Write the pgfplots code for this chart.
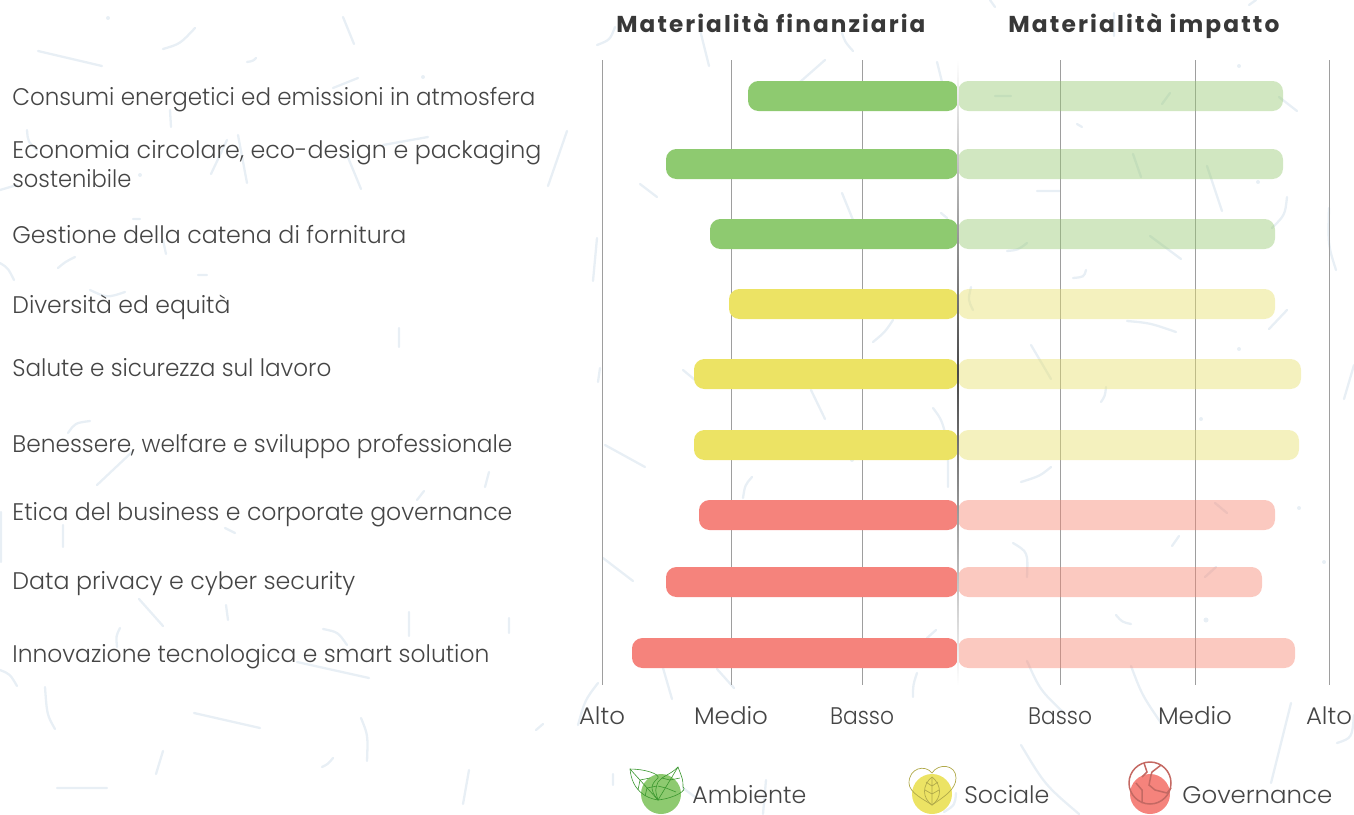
\documentclass[border=0pt]{standalone}
\usepackage{fontspec}
\usepackage{graphicx}
\usepackage{pgfplots}
\pgfplotsset{compat=1.18}
\setmainfont{Poppins}[UprightFont=* Light,BoldFont=* Bold]
\definecolor{txt}{HTML}{454545}
\definecolor{speck}{HTML}{E8EFF5}
\definecolor{grn}{HTML}{8ECA70}
\definecolor{yel}{HTML}{ECE364}
\definecolor{rdd}{HTML}{F5837C}
\definecolor{grnb}{HTML}{99CA75}
\definecolor{yelb}{HTML}{E7E06F}
\definecolor{rddb}{HTML}{F68773}
% label: left x, baseline y, right x (all reference pixels), text
\newcommand{\lab}[4]{\pgfmathsetmacro{\labw}{(#3-#1)*0.5}\node[anchor=base west,inner sep=0pt,text=txt,font=\fontsize{12}{14}\selectfont] at (#1,#2) {\resizebox{\labw pt}{\height}{#4}};}
\newcommand{\ttl}[4]{\pgfmathsetmacro{\labw}{(#3-#1)*0.5}\node[anchor=base west,inner sep=0pt,text=black!78,font=\fontsize{11.5}{14}\selectfont\bfseries] at (#1,#2) {\resizebox{\labw pt}{\height}{\addfontfeature{LetterSpace=9}#4}};}
\newcommand{\tk}[2]{\resizebox{#1pt}{\height}{#2}}
\tikzset{px/.style={x=0.5pt,y=-0.5pt}}
\begin{document}
\begin{tikzpicture}
\path[use as bounding box] (0,0) rectangle (677pt,-407pt);
% background specks
\begin{scope}[px,draw=speck,line width=1.15pt,line cap=round]
\draw (38,51)--(102,66) (343,17)--(354,44) (170,110)--(171,127) (238,135)--(247,183)
 (227,140)--(211,174) (347,155)--(361,189) (163,240)--(166,254) (399,328)--(399,347)
 (63,525)--(63,547) (1,512)--(1,562) (139,599)--(163,626) (226,605)--(228,620)
 (409,612)--(409,636) (297,662)--(369,678) (194,713)--(260,728) (163,751)--(156,774)
 (57,788)--(107,788) (700,30)--(709,66) (825,60)--(800,82) (567,131)--(548,186)
 (640,184)--(657,197) (842,193)--(853,220) (597,238)--(593,281) (600,368)--(598,382)
 (683,370)--(695,380) (811,390)--(825,419) (605,445)--(645,467) (489,472)--(485,487)
 (603,558)--(633,581) (509,618)--(509,633) (663,668)--(672,699) (717,669)--(734,688)
 (469,770)--(463,804) (613,774)--(613,785) (683,788)--(695,797) (766,780)--(763,814)
 (1114,13)--(1114,36) (937,62)--(942,82) (995,96)--(1011,96) (1170,93)--(1162,104)
 (1279,97)--(1297,111) (1077,124)--(1082,127) (1133,154)--(1141,177) (1207,166)--(1222,211)
 (1037,191)--(1060,191) (1150,236)--(1181,259) (941,213)--(947,218) (1287,310)--(1269,329)
 (1031,345)--(1051,379) (1354,365)--(1344,399) (948,460)--(948,487) (1215,503)--(1227,513)
 (1179,536)--(1172,546) (1216,567)--(1205,577) (936,630)--(927,638) (1291,703)--(1271,783)
 (990,0)--(995,7) (1256,0)--(1249,5) (198,275)--(207,275) (133,219)--(140,219)
 (97,485)--(132,452) (424,491)--(417,500) (225,528)--(235,533) (543,724)--(536,730)
 (333,88)--(358,78) (383,145)--(428,137) (0,190)--(17,185);
\draw (163,49) .. controls (180,44) .. (195,28);
\draw (247,62) .. controls (253,61) .. (256,58);
\draw (27,130) .. controls (28,142) .. (37,150);
\draw (75,257) .. controls (65,262) .. (58,268);
\draw (0,263) .. controls (8,268) .. (14,280);
\draw (90,290) .. controls (107,298) .. (125,292);
\draw (90,421) .. controls (75,423) .. (68,433);
\draw (120,628) .. controls (116,636) .. (117,647);
\draw (323,629) .. controls (338,632) .. (347,645);
\draw (0,670) .. controls (10,674) .. (17,686);
\draw (45,687) .. controls (47,715) .. (55,729);
\draw (361,718) .. controls (368,735) .. (367,761);
\draw (333,758) .. controls (328,764) .. (322,767);
\draw (615,27) .. controls (610,40) .. (597,45);
\draw (842,33) .. controls (845,42) .. (853,51);
\draw (893,320) .. controls (885,332) .. (873,342);
\draw (752,477) .. controls (745,485) .. (743,498);
\draw (598,683) .. controls (585,700) .. (578,725);
\draw (1287,197) .. controls (1285,215) .. (1272,228);
\draw (1027,243) .. controls (1018,250) .. (1007,251);
\draw (1329,208) .. controls (1328,245) .. (1336,270);
\draw (1086,270) .. controls (1084,277) .. (1073,278);
\draw (971,287) .. controls (968,300) .. (973,310);
\draw (1127,321) .. controls (1150,323) .. (1176,332);
\draw (1106,387) .. controls (1105,396) .. (1101,402);
\draw (933,408) .. controls (942,420) .. (948,445);
\draw (1051,467) .. controls (1040,476) .. (1021,482);
\draw (1013,543) .. controls (1028,552) .. (1027,577);
\draw (1116,615) .. controls (1122,622) .. (1131,624);
\draw (917,673) .. controls (913,685) .. (913,697);
\draw (1027,661) .. controls (1040,690) .. (1064,713);
\draw (1131,666) .. controls (1142,695) .. (1161,723);
\draw (1354,715) .. controls (1352,738) .. (1337,743);
\draw (1021,745) .. controls (1045,785) .. (1079,814);
\draw (956,793) .. controls (955,805) .. (944,812);
\fill[speck] (108,18) circle (2) (423,77) circle (2) (140,175) circle (2) (1239,66) circle (2)
 (1258,182) circle (2) (1239,349) circle (2) (1201,419) circle (2) (1299,508) circle (2)
 (1206,620) circle (2.5) (1324,562) circle (2) (852,460) circle (2);
\end{scope}
\begin{axis}[
    at={(301pt,-30pt)},anchor=north west,
    scale only axis,width=363.5pt,height=312.5pt,
    xmin=-356,xmax=371,ymin=60,ymax=685,
    y dir=reverse,
    axis line style={draw=none},
    tick style={draw=none},
    ytick=\empty,
    xtick={-356,-227,-96,102,237,371},
    xticklabels={\tk{23}{Alto},\tk{37}{Medio},\tk{32}{Basso},\tk{32}{Basso},\tk{37}{Medio},\tk{23}{Alto}},
    xticklabel style={anchor=base,yshift=-19.5pt,text=txt,font=\fontsize{12}{14}\selectfont},
    xmajorgrids,
    grid style={color=black!38,line width=0.5pt},
    clip=false,
    every axis plot/.append style={xbar,bar width=15pt,bar shift=0pt,draw=none,rounded corners=5.2pt},
]
% finanziaria
\addplot[fill=grn] coordinates {(-210,96)(-292,164)(-248,234)};
\addplot[fill=yel] coordinates {(-229,304)(-264,374)(-264,445)};
\addplot[fill=rdd] coordinates {(-259,515)(-292,582)(-326,653)};
% impatto
\addplot[fill=grnb,fill opacity=0.45] coordinates {(325,96)(325,164)(317,234)};
\addplot[fill=yelb,fill opacity=0.45] coordinates {(317,304)(343,374)(341,445)};
\addplot[fill=rddb,fill opacity=0.45] coordinates {(317,515)(304,582)(337,653)};
\end{axis}
\begin{scope}[px]
\shade[top color=white,bottom color=white,middle color=black!72] (957.4,60) rectangle (958.8,685);
\lab{12}{105}{535}{Consumi energetici ed emissioni in atmosfera}
\lab{12}{158}{541}{Economia circolare, eco-design e packaging}
\lab{12}{187}{131}{sostenibile}
\lab{12}{243}{406}{Gestione della catena di fornitura}
\lab{12}{313}{230}{Diversità ed equità}
\lab{12}{376}{331}{Salute e sicurezza sul lavoro}
\lab{12}{452}{512}{Benessere, welfare e sviluppo professionale}
\lab{12}{520}{512}{Etica del business e corporate governance}
\lab{12}{589}{355}{Data privacy e cyber security}
\lab{12}{662}{489}{Innovazione tecnologica e smart solution}
\ttl{616}{32}{925}{Materialità finanziaria}
\ttl{1008}{32}{1279}{Materialità impatto}
% legend
\fill[grn] (661,794) circle (20);
\fill[yel] (932,794) circle (20);
\fill[rdd] (1150,794) circle (20);
\lab{692}{803}{806}{Ambiente}
\lab{964}{803}{1049}{Sociale}
\lab{1182}{803}{1332}{Governance}
% leaf icon
\begin{scope}[draw=green!45!black!60!grn,line width=0.3pt]
\draw (630,769) .. controls (645,769) and (660,774) .. (658,778) .. controls (650,785) and (650,790) .. (658,800) .. controls (645,798) and (632,790) .. cycle;
\draw (678,767) .. controls (670,775) and (662,776) .. (658,782) .. controls (655,790) .. (658,800) .. controls (675,798) and (688,790) .. (683,787) .. controls (683,780) .. cycle;
\draw (630,769) -- (658,800) (678,767) -- (658,800);
\draw (640,780) -- (650,778) (640,780) -- (638,790) (647,788) -- (657,786) (647,788) -- (645,796);
\draw (670,780) -- (662,778) (670,780) -- (680,778) (666,788) -- (676,792) (666,788) -- (658,786);
\end{scope}
% heart icon
\begin{scope}[draw=yel!75!black,line width=0.35pt]
\draw (932,773) .. controls (925,764) and (909,768) .. (909,783) .. controls (909,793) and (925,800) .. (932,805) .. controls (942,798) and (956,790) .. (956,778) .. controls (956,764) and (938,763) .. cycle;
\draw (932,777) .. controls (922,785) and (922,798) .. (932,805) .. controls (942,798) and (942,785) .. cycle;
\draw (932,777) -- (932,805) (932,786) -- (926,782) (932,786) -- (938,782) (932,794) -- (925,790) (932,794) -- (939,790);
\end{scope}
% globe icon
\begin{scope}[draw=rdd!80!black,line width=0.75pt]
\draw (1150,783) circle (21);
\draw (1144,763) -- (1147,772) -- (1142,777) (1161,765) -- (1152,772) -- (1151,775) -- (1149,785) -- (1155,790) -- (1167,793) -- (1171,788);
\draw (1136,783) -- (1142,790) -- (1142,803);
\end{scope}
\end{scope}
\end{tikzpicture}
\end{document}
